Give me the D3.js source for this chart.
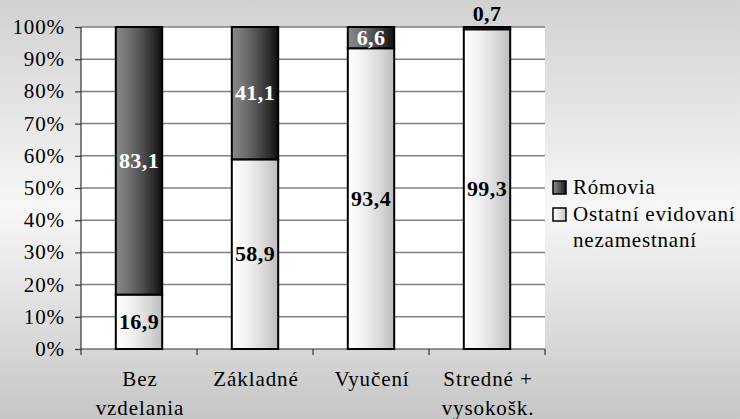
<!DOCTYPE html>
<html><head><meta charset="utf-8"><script src="https://cdn.jsdelivr.net/npm/d3@7"></script></head>
<body style="margin:0">
<script>
var categories = [["Bez", "vzdelania"], ["Základné"], ["Vyučení"], ["Stredné +", "vysokošk."]];
var roma = [83.1, 41.1, 6.6, 0.7];
var others = [16.9, 58.9, 93.4, 99.3];
var seriesNames = ["Rómovia", ["Ostatní evidovaní", "nezamestnaní"]];
var yTicks = [0, 10, 20, 30, 40, 50, 60, 70, 80, 90, 100];

var width = 740, height = 419;
var plotLeft = 81, plotRight = 545, plotTop = 27, plotBottom = 349;
var face = "'Liberation Serif'";

var svg = d3.select("body").append("svg")
    .attr("width", width)
    .attr("height", height)
    .style("display", "block");

var defs = svg.append("defs");

// background gradient, darker at top and bottom
var bg = defs.append("linearGradient").attr("id", "bg")
    .attr("x1", 0).attr("y1", 0).attr("x2", 0).attr("y2", 1);
bg.append("stop").attr("offset", 0).attr("stop-color", "#d1d1d1");
bg.append("stop").attr("offset", 0.5).attr("stop-color", "#f7f7f7");
bg.append("stop").attr("offset", 1).attr("stop-color", "#c6c6c6");

var dark = defs.append("linearGradient").attr("id", "dark");
[["0", "#8a8a8a"], ["0.3", "#6e6e6e"], ["0.6", "#4a4a4a"], ["0.85", "#262626"], ["1", "#0e0e0e"]]
    .forEach(function (s) { dark.append("stop").attr("offset", s[0]).attr("stop-color", s[1]); });

var light = defs.append("linearGradient").attr("id", "light");
[["0", "#ffffff"], ["0.35", "#f0f0f0"], ["0.7", "#d8d8d8"], ["1", "#bdbdbd"]]
    .forEach(function (s) { light.append("stop").attr("offset", s[0]).attr("stop-color", s[1]); });

svg.append("rect").attr("width", width).attr("height", height).attr("fill", "url(#bg)");
svg.append("rect").attr("x", plotLeft).attr("y", plotTop)
    .attr("width", plotRight - plotLeft).attr("height", plotBottom - plotTop).attr("fill", "#fff");

var x = d3.scaleBand()
    .domain(d3.range(categories.length))
    .range([plotLeft, plotRight])
    .paddingInner(0.6)
    .paddingOuter(0.3);

var y = d3.scaleLinear().domain([0, 100]).range([plotBottom, plotTop]);

// gridlines
svg.append("g").selectAll("line")
    .data(yTicks.slice(1))
    .enter().append("line")
    .attr("x1", plotLeft).attr("x2", plotRight)
    .attr("y1", function (d) { return y(d); })
    .attr("y2", function (d) { return y(d); })
    .style("stroke", "#808080")
    .style("stroke-width", 1.5);

// y axis: ticks from d3, labels drawn as plain text
var yAxis = svg.append("g")
    .attr("transform", "translate(" + plotLeft + ",0)")
    .call(d3.axisLeft(y).tickValues(yTicks).tickSize(6).tickFormat(""));
yAxis.select(".domain").remove();
yAxis.append("line")
    .attr("y1", plotTop).attr("y2", plotBottom)
    .style("stroke", "#333").style("stroke-width", 1.2);
yAxis.selectAll(".tick line").style("stroke", "#333").style("stroke-width", 1.2);

svg.append("g").selectAll("text")
    .data(yTicks)
    .enter().append("text")
    .attr("x", plotLeft - 16)
    .attr("y", function (d) { return y(d) + 7; })
    .attr("text-anchor", "end")
    .style("font-family", face)
    .style("font-size", "21px")
    .style("letter-spacing", "0.9px")
    .style("fill", "#000")
    .text(function (d) { return d + "%"; });

// x axis line and ticks at band boundaries
var xAxis = svg.append("g");
xAxis.append("line")
    .attr("x1", plotLeft).attr("x2", plotRight)
    .attr("y1", plotBottom).attr("y2", plotBottom)
    .style("stroke", "#333").style("stroke-width", 1.2);
xAxis.selectAll(".tk")
    .data(d3.range(categories.length + 1))
    .enter().append("line")
    .attr("x1", function (i) { return plotLeft + i * x.step(); })
    .attr("x2", function (i) { return plotLeft + i * x.step(); })
    .attr("y1", plotBottom).attr("y2", plotBottom + 6)
    .style("stroke", "#333").style("stroke-width", 1.2);

// category labels, one text per line
var catLines = [];
categories.forEach(function (c, i) {
    c.forEach(function (s, j) { catLines.push({ i: i, j: j, s: s }); });
});
xAxis.selectAll(".cat")
    .data(catLines)
    .enter().append("text")
    .attr("text-anchor", "middle")
    .style("font-family", face)
    .style("font-size", "21px")
    .style("letter-spacing", "0.9px")
    .attr("x", function (d) { return x(d.i) + x.bandwidth() / 2 + 1; })
    .attr("y", function (d) { return 386 + d.j * 29; })
    .text(function (d) { return d.s; });

// stacked bars
var bars = svg.append("g").selectAll("g")
    .data(categories)
    .enter().append("g");

bars.append("rect")
    .attr("x", function (d, i) { return x(i); })
    .attr("width", x.bandwidth())
    .attr("y", function (d, i) { return y(others[i]); })
    .attr("height", function (d, i) { return y(0) - y(others[i]); })
    .attr("fill", "url(#light)")
    .style("stroke", "#000").style("stroke-width", 2);

bars.append("rect")
    .attr("x", function (d, i) { return x(i); })
    .attr("width", x.bandwidth())
    .attr("y", function (d, i) { return y(others[i] + roma[i]); })
    .attr("height", function (d, i) { return y(others[i]) - y(others[i] + roma[i]); })
    .attr("fill", "url(#dark)")
    .style("stroke", "#000").style("stroke-width", 2);

function fmt(v) { return v.toFixed(1).replace(".", ","); }

bars.append("text")
    .attr("text-anchor", "middle")
    .style("font-family", face)
    .style("font-size", "22px").style("font-weight", "bold")
    .style("letter-spacing", "0.4px")
    .attr("x", function (d, i) { return x(i) + x.bandwidth() / 2; })
    .attr("y", function (d, i) { return y(others[i] / 2) + 7; })
    .style("fill", "#000")
    .text(function (d, i) { return fmt(others[i]); });

bars.append("text")
    .attr("text-anchor", "middle")
    .style("font-family", face)
    .style("font-size", "22px").style("font-weight", "bold")
    .style("letter-spacing", "0.4px")
    .attr("x", function (d, i) { return x(i) + x.bandwidth() / 2; })
    .attr("y", function (d, i) {
        return roma[i] < 3 ? y(100) - 6 : y(others[i] + roma[i] / 2) + 7;
    })
    .style("fill", function (d, i) { return roma[i] < 3 ? "#000" : "#fff"; })
    .text(function (d, i) { return fmt(roma[i]); });

// legend
var legendItems = [
    { name: [seriesNames[0]], fill: "url(#dark)", y: 181 },
    { name: seriesNames[1], fill: "url(#light)", y: 208 }
];
var legend = svg.append("g");
legend.selectAll("rect")
    .data(legendItems)
    .enter().append("rect")
    .attr("x", 553).attr("width", 13)
    .attr("y", function (d) { return d.y; }).attr("height", 13)
    .attr("fill", function (d) { return d.fill; })
    .style("stroke", "#000").style("stroke-width", 1.5);

var legendLines = [];
legendItems.forEach(function (it) {
    it.name.forEach(function (s, j) { legendLines.push({ y: it.y + 13 + j * 26, s: s }); });
});
legend.selectAll("text")
    .data(legendLines)
    .enter().append("text")
    .attr("x", 573)
    .attr("y", function (d) { return d.y; })
    .style("font-family", face)
    .style("font-size", "21px")
    .style("letter-spacing", "0.8px")
    .style("fill", "#000")
    .text(function (d) { return d.s; });
</script>
</body>
</html>
